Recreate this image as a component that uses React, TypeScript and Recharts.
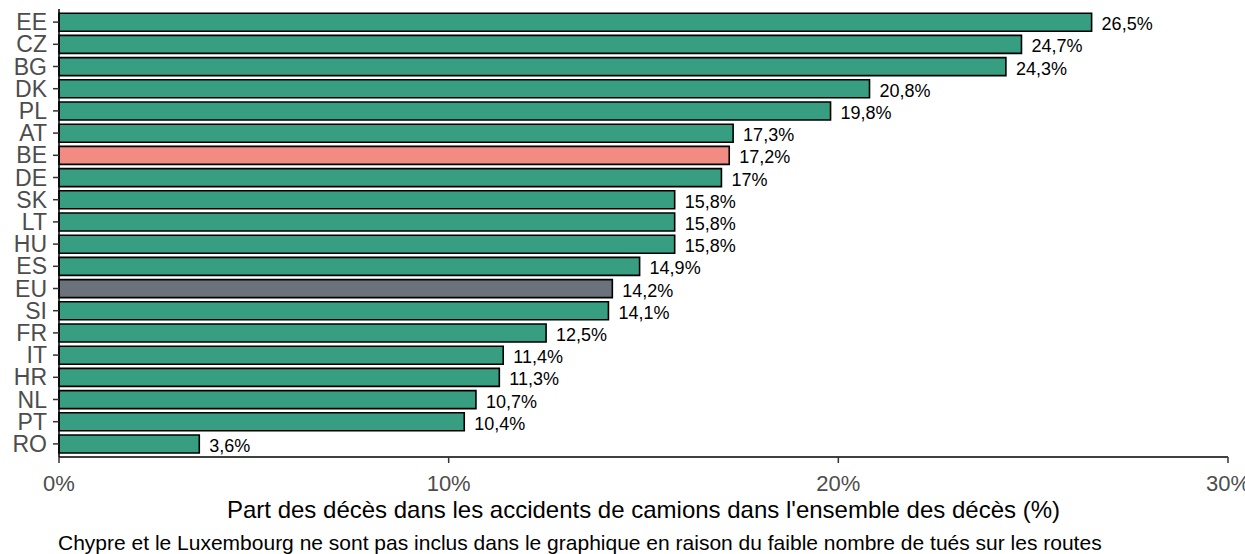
import React from "react";
import { BarChart, Bar, XAxis, YAxis, Cell, LabelList } from "recharts";

const countries = ["EE", "CZ", "BG", "DK", "PL", "AT", "BE", "DE", "SK", "LT", "HU", "ES", "EU", "SI", "FR", "IT", "HR", "NL", "PT", "RO"];
const shares = [26.5, 24.7, 24.3, 20.8, 19.8, 17.3, 17.2, 17, 15.8, 15.8, 15.8, 14.9, 14.2, 14.1, 12.5, 11.4, 11.3, 10.7, 10.4, 3.6];
const xTicks = [0, 10, 20, 30];

const GREEN = "#389e82";
const SALMON = "#f28b82";
const GREY = "#6b727c";
const FONT = "'Liberation Sans', Arial, sans-serif";

const data = countries.map((c, i) => ({ country: c, value: shares[i] }));

const barColor = (c: string) => (c === "BE" ? SALMON : c === "EU" ? GREY : GREEN);
const fmt = (v: number) => String(v).replace(".", ",") + "%";

function ValueLabel(props: any) {
  const { x, y, width, height, value } = props;
  return (
    <text x={x + width + 10} y={y + height / 2 + 8} fontSize={18} fill="#000" fontFamily={FONT}>
      {fmt(value)}
    </text>
  );
}

// axis title + caption under the x axis
function AxisTitle(props: any) {
  const vb = props.viewBox || {};
  const left = vb.x ?? 59;
  const w = vb.width ?? 1169;
  return (
    <g fontFamily={FONT}>
      <text x={left + w / 2} y={518} textAnchor="middle" fontSize={24} fill="#000">
        Part des décès dans les accidents de camions dans l'ensemble des décès (%)
      </text>
      <text x={left - 1} y={550} textAnchor="start" fontSize={21} fill="#000">
        Chypre et le Luxembourg ne sont pas inclus dans le graphique en raison du faible nombre de tués sur les routes
      </text>
    </g>
  );
}

export default function App() {
  return (
    <div style={{ position: "absolute", left: 0, top: 0, width: 1245, height: 554, background: "#fff", fontFamily: FONT }}>
      <BarChart
        width={1245}
        height={554}
        data={data}
        layout="vertical"
        margin={{ top: 9, right: 17, bottom: 0, left: 0 }}
        barCategoryGap="10%"
      >
        <XAxis
          type="number"
          domain={[0, 30]}
          ticks={xTicks}
          interval={0}
          tickFormatter={(v) => v + "%"}
          height={97}
          tickSize={6}
          tickMargin={12}
          axisLine={{ stroke: "#000", strokeWidth: 1.5 }}
          tickLine={{ stroke: "#333", strokeWidth: 1.5 }}
          tick={{ fontSize: 22, fill: "#4d4d4d", fontFamily: FONT }}
          label={{ content: <AxisTitle /> }}
        />
        <YAxis
          type="category"
          dataKey="country"
          width={59}
          interval={0}
          padding={{ top: 2, bottom: 2 }}
          tickSize={6}
          tickMargin={6}
          axisLine={{ stroke: "#000", strokeWidth: 1.5 }}
          tickLine={{ stroke: "#333", strokeWidth: 1.5 }}
          tick={{ fontSize: 23, fill: "#4d4d4d", fontFamily: FONT }}
        />
        <Bar dataKey="value" stroke="#000" strokeWidth={1.6} isAnimationActive={false}>
          {data.map((d) => (
            <Cell key={d.country} fill={barColor(d.country)} />
          ))}
          <LabelList dataKey="value" content={<ValueLabel />} />
        </Bar>
      </BarChart>
    </div>
  );
}
